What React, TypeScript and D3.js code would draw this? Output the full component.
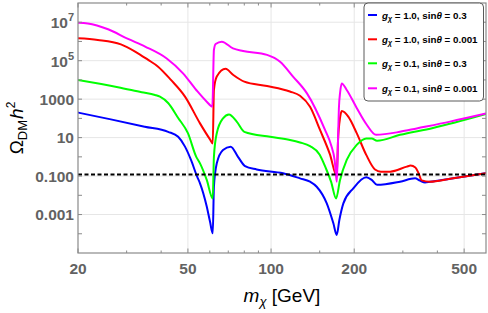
import React from "react";
import * as d3 from "d3";

// relic density vs DM mass
const blueCurve: [number, number][] = [
  [20, 200], [26.3, 89], [34.9, 37], [42.4, 20], [46.1, 11], [48.8, 3.4], [51.3, 0.69],
  [54.0, 0.093], [55.3, 0.042], [58.5, 0.0026], [60.1, 4.3e-4], [61.5, 1.05e-4],
  [62.1, 0.028], [63.6, 0.46], [67.0, 2.3], [71.4, 3.4], [75.9, 1.0], [80.5, 0.33],
  [88.7, 0.22], [110.5, 0.14], [127.3, 0.076], [138.4, 0.051], [146.3, 0.028],
  [159.1, 0.0038], [168.1, 3.5e-4], [172.9, 8.7e-5], [176.7, 5.2e-4], [182.7, 0.0038],
  [198.5, 0.023], [221.1, 0.087], [231.4, 0.063], [241.9, 0.035], [293, 0.051],
  [332, 0.076], [346, 0.058], [361, 0.047], [376, 0.05], [445, 0.072], [600, 0.14],
];

const redCurve: [number, number][] = [
  [20, 1.45e6], [23.6, 1.2e6], [28.6, 7.1e5], [32.2, 3.0e5], [35.9, 1.1e5], [39.0, 4.9e4],
  [43.4, 1.0e4], [48.8, 1350], [55.3, 55], [60.1, 8.1], [61.5, 5.0], [62.1, 3000],
  [63.6, 1.5e4], [68.4, 3.8e4], [73.0, 1.8e4], [80.0, 8100], [96.7, 4800], [117, 2500],
  [127.3, 1500], [138.4, 400], [150.4, 25], [163.5, 1.3], [172.9, 0.1], [174.8, 7.6],
  [177.7, 105], [180.3, 240], [190.6, 120], [204.2, 17], [221.1, 1.26], [237.8, 0.22],
  [250, 0.17], [270, 0.17], [310, 0.31], [320, 0.35], [333, 0.28], [342, 0.14],
  [351, 0.06], [376, 0.051], [445, 0.072], [600, 0.14],
];

const greenCurve: [number, number][] = [
  [20, 1.0e4], [27.9, 4200], [34, 2300], [38.0, 1660], [39.6, 1350], [42.4, 630],
  [46.1, 105], [50.0, 17], [53.6, 1.0], [55.3, 0.46], [58.5, 0.063], [61.5, 0.0069],
  [62.1, 1.0], [63.6, 17], [67.0, 100], [70.4, 160], [75.1, 68], [80, 20], [99.2, 11],
  [117.1, 7.6], [127.3, 5.6], [138.4, 3.6], [150, 1.3], [158, 0.25], [165, 0.05],
  [171.9, 0.0069], [177.7, 0.063], [187.9, 0.69], [204.2, 4.2], [221.1, 9.1],
  [231.4, 9.1], [241.9, 6.9], [293, 14], [385.8, 32], [600, 170],
];

const magentaCurve: [number, number][] = [
  [20, 9.5e6], [21.7, 8.7e6], [25.7, 4.3e6], [30.35, 1.35e6], [35.0, 5.4e5],
  [41.9, 1.3e5], [48.0, 2.2e4], [53.6, 3000], [58.5, 740], [61.3, 410], [62.1, 3.6e5],
  [63.0, 7.4e5], [66.3, 9.8e5], [72.8, 4.4e5], [79.2, 3.2e5], [96.7, 2.0e5],
  [107.8, 8.9e4], [120.1, 1.5e4], [134.9, 2000], [156.8, 25], [165, 4], [170, 0.63],
  [173, 0.05], [174.5, 3.2], [176, 320], [178, 2500], [180.3, 6600], [187.9, 3000],
  [204.2, 350], [221.1, 51], [240, 14], [293, 20], [336.7, 30], [444.6, 68], [600, 180],
];

const legendG = ["1.0", "1.0", "0.1", "0.1"];
const legendSin = ["0.3", "0.001", "0.3", "0.001"];
const colors = ["#0000ff", "#ff0000", "#00ff00", "#ff00ff"];
const curves = [blueCurve, redCurve, greenCurve, magentaCurve];

const planck = 0.12;

const xMajor = [20, 50, 100, 200, 500];
const xMinor = [30, 40, 60, 70, 80, 90, 150, 300, 400];
const yLabelled = [1e7, 1e5, 1000, 10, 0.1, 0.001];
const yLabelText = ["7", "5", "1000", "10", "0.100", "0.001"];
const yMinor = [1e6, 1e4, 100, 1, 0.01, 1e-4];

const W = 488, H = 313;
const left = 78, right = 486, top = 3, bottom = 253;
const font = "'Liberation Sans', Arial, sans-serif";
const frameColor = "#8a8a8a";
const tickText = "#626262";

export default function App() {
  const x = d3.scaleLog().domain([20, 600]).range([left, right]);
  const y = d3.scaleLog().domain([1e-5, 1e8]).range([bottom, top]);

  const line = d3
    .line<[number, number]>()
    .x((d) => x(d[0]))
    .y((d) => y(d[1]))
    .curve(d3.curveMonotoneX);

  const legendRows = [15, 39.3, 63.3, 88.3];

  return (
    <svg width={W} height={H} style={{ position: "absolute", left: 0, top: 0, background: "#fff" }}>
      <defs>
        <clipPath id="plotClip">
          <rect x={left} y={top} width={right - left} height={bottom - top} />
        </clipPath>
      </defs>

      {/* grid */}
      <g stroke="#e6e6e6" strokeWidth={1}>
        {xMajor.slice(1).map((v) => (
          <line key={"gx" + v} x1={x(v)} x2={x(v)} y1={top} y2={bottom} />
        ))}
        {yLabelled.map((v) => (
          <line key={"gy" + v} x1={left} x2={right} y1={y(v)} y2={y(v)} />
        ))}
      </g>

      {/* curves */}
      <g clipPath="url(#plotClip)" fill="none" strokeWidth={2} strokeLinejoin="round">
        {curves.map((c, i) => (
          <path key={i} d={line(c) || ""} stroke={colors[i]} />
        ))}
      </g>

      <line x1={left} x2={right} y1={y(planck)} y2={y(planck)} stroke="#000"
        strokeWidth={2} strokeDasharray="4,2.5" />

      {/* frame and ticks */}
      <rect x={left} y={top} width={right - left} height={bottom - top} fill="none"
        stroke={frameColor} strokeWidth={1.2} />
      <g stroke={frameColor} strokeWidth={1}>
        {xMajor.map((v) => (
          <g key={"tx" + v}>
            <line x1={x(v)} x2={x(v)} y1={bottom} y2={bottom - 4.5} />
            <line x1={x(v)} x2={x(v)} y1={top} y2={top + 4.5} />
          </g>
        ))}
        {xMinor.map((v) => (
          <g key={"mx" + v}>
            <line x1={x(v)} x2={x(v)} y1={bottom} y2={bottom - 2.5} />
            <line x1={x(v)} x2={x(v)} y1={top} y2={top + 2.5} />
          </g>
        ))}
        {yLabelled.concat(yMinor).map((v) => (
          <g key={"ty" + v}>
            <line x1={left} x2={left + 4} y1={y(v)} y2={y(v)} />
            <line x1={right} x2={right - 4} y1={y(v)} y2={y(v)} />
          </g>
        ))}
      </g>

      {/* tick labels */}
      <g fontFamily={font} fontWeight="bold" fill={tickText} fontSize={15.5}>
        {xMajor.map((v) => (
          <text key={"lx" + v} x={x(v)} y={274} textAnchor="middle">{v}</text>
        ))}
        {yLabelled.map((v, i) =>
          i < 2 ? (
            <text key={"ly" + v} x={74} y={y(v) + 6} textAnchor="end">
              <tspan>10</tspan>
              <tspan fontSize={11} dy={-7}>{yLabelText[i]}</tspan>
            </text>
          ) : (
            <text key={"ly" + v} x={74} y={y(v) + 5.5} textAnchor="end">{yLabelText[i]}</text>
          )
        )}
      </g>

      {/* axis titles */}
      <text x={282} y={302} textAnchor="middle" fontFamily={font} fontSize={19} fill="#000">
        <tspan fontStyle="italic">m</tspan>
        <tspan fontSize={13} dy={4} fontStyle="italic">χ</tspan>
        <tspan dy={-4} style={{ whiteSpace: "pre" }}> [GeV]</tspan>
      </text>
      <text transform="translate(23,128) rotate(-90)" textAnchor="middle" fontFamily={font}
        fontSize={19} fill="#000">
        <tspan>Ω</tspan>
        <tspan fontSize={13} dy={4}>DM</tspan>
        <tspan fontStyle="italic" dy={-4} dx={1}>h</tspan>
        <tspan fontSize={12} dy={-8}>2</tspan>
      </text>

      {/* legend */}
      <rect x={364} y={3} width={119.5} height={98} rx={4} fill="#fff" stroke="#5a5a5a" strokeWidth={1} />
      {legendRows.map((ly, i) => (
        <g key={"leg" + i}>
          <line x1={368} x2={377} y1={ly} y2={ly} stroke={colors[i]} strokeWidth={2} />
          <text x={382} y={ly + 3.6} fontFamily={font} fontWeight="bold" fontSize={9.8}
            fill="#000" style={{ whiteSpace: "pre" }}>
            <tspan fontStyle="italic">g</tspan>
            <tspan fontStyle="italic" fontSize={7} dy={2.5}>χ</tspan>
            <tspan dy={-2.5}>{` = ${legendG[i]}, sin`}</tspan>
            <tspan fontStyle="italic">θ</tspan>
            <tspan>{` = ${legendSin[i]}`}</tspan>
          </text>
        </g>
      ))}
    </svg>
  );
}
